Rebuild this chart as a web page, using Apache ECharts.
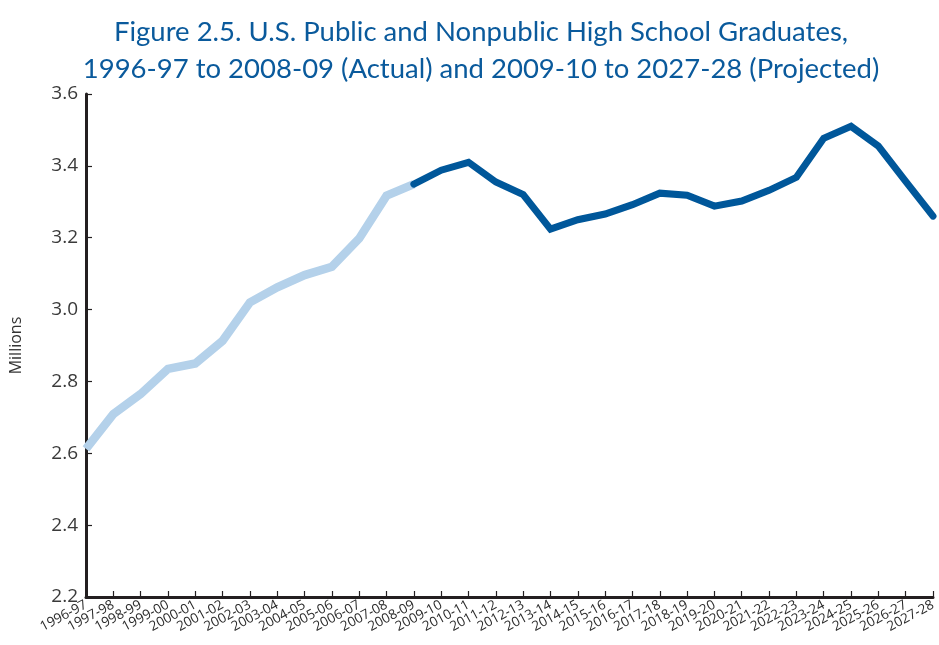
<!DOCTYPE html>
<html>
<head>
<meta charset="utf-8">
<script src="https://cdn.jsdelivr.net/npm/echarts@6/dist/echarts.min.js"></script>
<style>
  html, body { margin: 0; padding: 0; background: #fff; }
  #chart { width: 939px; height: 645px; }
</style>
</head>
<body>
<div id="chart"></div>
<script>
const years = [
  '1996-97', '1997-98', '1998-99', '1999-00', '2000-01', '2001-02', '2002-03', '2003-04',
  '2004-05', '2005-06', '2006-07', '2007-08', '2008-09', '2009-10', '2010-11', '2011-12',
  '2012-13', '2013-14', '2014-15', '2015-16', '2016-17', '2017-18', '2018-19', '2019-20',
  '2020-21', '2021-22', '2022-23', '2023-24', '2024-25', '2025-26', '2026-27', '2027-28'
]

// millions of graduates, 1996-97 .. 2008-09
const actual = [2.612, 2.709, 2.765, 2.835, 2.850, 2.913, 3.020, 3.062, 3.096, 3.119, 3.198, 3.317, 3.349]

// millions of graduates, 2008-09 .. 2027-28
const projected = [3.349, 3.388, 3.410, 3.355, 3.320, 3.224, 3.250, 3.266, 3.292, 3.324, 3.318, 3.288,
  3.302, 3.332, 3.368, 3.477, 3.510, 3.455, 3.357, 3.260]

const yTicks = [2.2, 2.4, 2.6, 2.8, 3.0, 3.2, 3.4, 3.6]

// pad the two pieces out to the full category list
const actualData = years.map((y, i) => i < actual.length ? actual[i] : null)
const projData = years.map((y, i) => {
  const j = i - (actual.length - 1)
  return j >= 0 ? projected[j] : null
})

const chart = echarts.init(document.getElementById('chart'))

const option = {
  animation: false,
  title: {
    text: 'Figure 2.5. U.S. Public and Nonpublic High School Graduates,\n1996-97 to 2008-09 (Actual) and 2009-10 to 2027-28 (Projected)',
    left: 476,
    textAlign: 'center',
    top: 9,
    textStyle: {
      color: '#0a5a9c',
      fontFamily: 'Lato',
      fontWeight: 'normal',
      fontSize: 27.5,
      lineHeight: 37
    }
  },
  grid: {
    left: 84,
    right: 6,
    top: 94,
    bottom: 48
  },
  xAxis: {
    type: 'category',
    data: years,
    boundaryGap: false,
    axisLine: {lineStyle: {color: '#231f20', width: 3}},
    axisTick: {inside: true, length: 6, lineStyle: {color: '#231f20', width: 1.2}},
    axisLabel: {
      interval: 0,
      rotate: 28,
      margin: 7,
      fontSize: 13.5,
      color: '#2a2a2a',
      fontFamily: 'Open Sans'
    }
  },
  yAxis: {
    type: 'value',
    min: yTicks[0],
    max: yTicks[yTicks.length - 1],
    interval: 0.2,
    name: 'Millions',
    nameLocation: 'middle',
    nameGap: 62,
    nameTextStyle: {fontSize: 16, color: '#333', fontFamily: 'Open Sans'},
    splitLine: {show: false},
    axisLine: {show: true, lineStyle: {color: '#231f20', width: 3}},
    axisTick: {show: true, inside: true, length: 6, lineStyle: {color: '#231f20', width: 1.2}},
    axisLabel: {
      margin: 8,
      fontSize: 19,
      color: '#3a3a3a',
      fontFamily: 'Open Sans',
      formatter: v => v.toFixed(1)
    }
  },
  series: [
    {
      name: 'Actual',
      type: 'line',
      data: actualData,
      symbol: 'none',
      lineStyle: {color: '#b4d1ea', width: 8.5, join: 'miter'}
    },
    {
      name: 'Projected',
      type: 'line',
      data: projData,
      symbol: 'none',
      z: 3,
      lineStyle: {color: '#00579a', width: 7, cap: 'round', join: 'miter'}
    }
  ]
}

chart.setOption(option)
</script>
</body>
</html>
